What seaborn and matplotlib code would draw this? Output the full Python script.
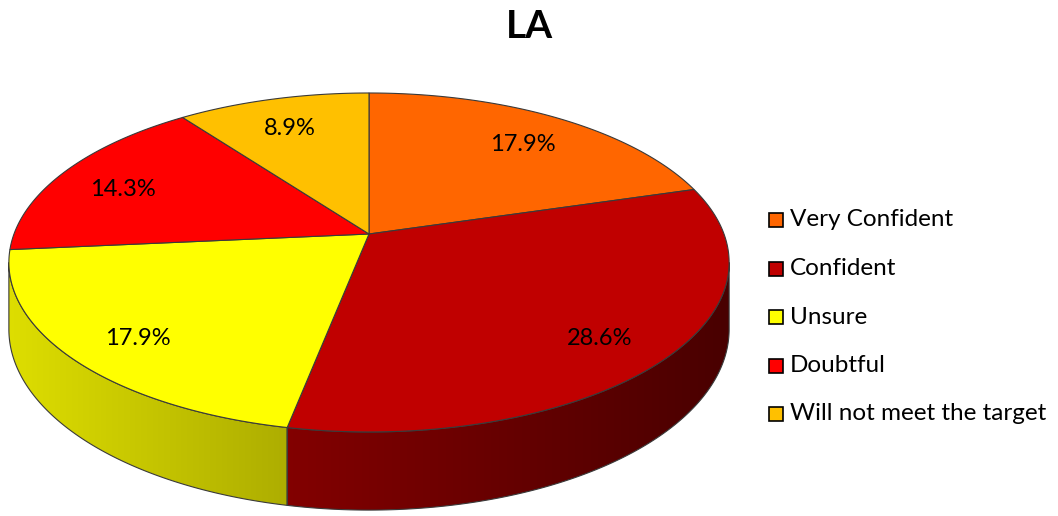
import numpy as np
import matplotlib
matplotlib.use("Agg")
import matplotlib.pyplot as plt
import seaborn as sns
from matplotlib.patches import Polygon, Rectangle
from matplotlib.colors import to_rgb

# ---- data ----
title = "LA"
categories = ["Very Confident", "Confident", "Unsure", "Doubtful", "Will not meet the target"]
percentages = [17.9, 28.6, 17.9, 14.3, 8.9]
slice_colors = ["#FF6600", "#C00000", "#FFFF00", "#FF0000", "#FFC000"]

sns.set_theme(style="white")
plt.rcParams["font.family"] = ["Lato", "DejaVu Sans"]

W, H = 1058, 516
fig = plt.figure(figsize=(W / 100, H / 100), dpi=100)
ax = fig.add_axes([0, 0, 1, 1])
ax.set_xlim(0, W)
ax.set_ylim(H, 0)
ax.axis("off")

palette = sns.color_palette(slice_colors)

# ---- 3-D pie geometry (perspective view of a tilted disc) ----
cx, cy = 369, 234          # projected centre of the disc
rx, ry = 355, 164.7        # horizontal / vertical radius scale
k = 0.168                  # perspective strength (far side shrinks)
depth = 65                 # thickness of the disc
edge = "#3a3a3a"


def project(t, r=1.0):
    X = r * np.cos(t)
    Y = r * np.sin(t)
    s = 1.0 / (1.0 + k * Y)
    return cx + rx * X * s, cy - ry * Y * s, s


fracs = np.array(percentages) / np.sum(percentages)
bounds = np.pi / 2 - 2 * np.pi * np.concatenate([[0], np.cumsum(fracs)])

# visible part of the rim lies between the two silhouette angles
t_left = np.pi + np.arcsin(k)
t_right = 2 * np.pi - np.arcsin(k)


def norm_range(a, b):
    # slice runs clockwise from a down to b; return it as an increasing interval
    lo, hi = b, a
    while lo < 0:
        lo += 2 * np.pi
        hi += 2 * np.pi
    return lo, hi


# side walls: horizontal shading gradient clipped to each visible rim piece
for i in range(len(percentages)):
    lo, hi = norm_range(bounds[i], bounds[i + 1])
    segs = []
    for off in (0, 2 * np.pi, -2 * np.pi):
        a0 = max(lo + off, t_left)
        a1 = min(hi + off, t_right)
        if a1 > a0:
            segs.append((a0, a1))
    base = np.array(to_rgb(palette[i]))
    for a0, a1 in segs:
        ts = np.linspace(a0, a1, 300)
        xt, yt, s = project(ts)
        yb = yt + depth * s
        outline = list(zip(xt, yt)) + list(zip(xt[::-1], yb[::-1]))
        x0, x1 = xt.min() - 2, xt.max() + 2
        y0, y1 = yt.min() - 2, yb.max() + 2
        xs = np.linspace(x0, x1, 400)
        Xn = np.clip((xs - cx) / (rx * 1.0145), -1, 1)
        f = 0.625 - 0.245 * Xn
        row = np.clip(base[None, :] * f[:, None], 0, 1)
        img = np.repeat(row[None, :, :], 2, axis=0)
        im = ax.imshow(img, extent=(x0, x1, y1, y0), aspect="auto",
                       interpolation="bilinear", zorder=2)
        clip = Polygon(outline, closed=True, facecolor="none",
                       edgecolor=edge, lw=0.8, zorder=3)
        ax.add_patch(clip)
        im.set_clip_path(clip)

ax.set_xlim(0, W)
ax.set_ylim(H, 0)

# top faces
for i in range(len(percentages)):
    ts = np.linspace(bounds[i], bounds[i + 1], 200)
    xt, yt, _ = project(ts)
    pts = [(cx, cy)] + list(zip(xt, yt))
    ax.add_patch(Polygon(pts, closed=True, facecolor=palette[i],
                         edgecolor=edge, lw=0.8, zorder=4))

# percentage labels
for i, p in enumerate(percentages):
    mid = 0.5 * (bounds[i] + bounds[i + 1])
    lx, ly, s = project(mid, 0.8)
    ax.text(lx, ly + 0.1 * depth * s, f"{p:.1f}%", ha="center", va="center",
            fontsize=17, color="black", zorder=6)

# legend
leg_x, leg_y0, leg_dy = 769, 220, 48.5
for i, name in enumerate(categories):
    y = leg_y0 + i * leg_dy
    ax.add_patch(Rectangle((leg_x, y - 7), 14, 14, facecolor=palette[i],
                           edgecolor="black", lw=1.2, zorder=6))
    ax.text(leg_x + 21, y, name, ha="left", va="center",
            fontsize=17.5, color="black", zorder=6)

ax.text(W / 2, 27, title, ha="center", va="center",
        fontsize=28, fontweight="bold", color="black")

fig.savefig("out.png", dpi=100)
